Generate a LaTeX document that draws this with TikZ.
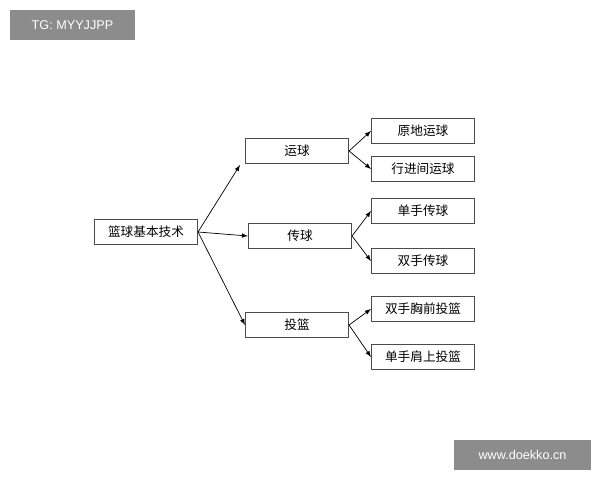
\documentclass[tikz,border=0pt]{standalone}
\usepackage{fontspec}
\newfontfamily\cjk{Noto Sans CJK SC}
\setsansfont{Liberation Sans}
\usetikzlibrary{arrows}
\tikzset{>=latex}
\tikzset{
	box/.style={draw=black!70, line width=0.6pt, minimum width=2.58cm, minimum height=0.62cm, inner sep=0pt, font=\cjk\small},
	link/.style={->, line width=0.5pt},
	stamp/.style={fill=black!45, text=white, font=\sffamily\small, inner sep=0pt, minimum height=0.75cm}
}
\begin{document}
\begin{tikzpicture}[x=0.025cm, y=-0.025cm]
		\useasboundingbox (0,0) rectangle (600,480);

		\node[box] (root) at (146,232) {篮球基本技术};
		\node[box] (dribble) at (297,151) {运球};
		\node[box] (pass) at (300,236) {传球};
		\node[box] (shoot) at (297,325) {投篮};

		\node[box] (d1) at (423,131) {原地运球};
		\node[box] (d2) at (423,169) {行进间运球};
		\node[box] (p1) at (423,211) {单手传球};
		\node[box] (p2) at (423,261) {双手传球};
		\node[box] (s1) at (423,309) {双手胸前投篮};
		\node[box] (s2) at (423,357) {单手肩上投篮};

		\coordinate (tip) at (240,165);
		\draw[link] (root.east) -- (tip);
		\draw[link] (root.east) -- (pass.west);
		\draw[link] (root.east) -- (shoot.west);

		\draw[link] (dribble.east) -- (d1.west);
		\draw[link] (dribble.east) -- (d2.west);
		\draw[link] (pass.east) -- (p1.west);
		\draw[link] (pass.east) -- (p2.west);
		\draw[link] (shoot.east) -- (s1.west);
		\draw[link] (shoot.east) -- (s2.west);

		\node[stamp, minimum width=3.1cm] (tg) at (72.5,25) {TG: MYYJJPP};
		\node[stamp, minimum width=3.4cm] (site) at (522.5,455) {www.doekko.cn};

	\end{tikzpicture}
\end{document}
